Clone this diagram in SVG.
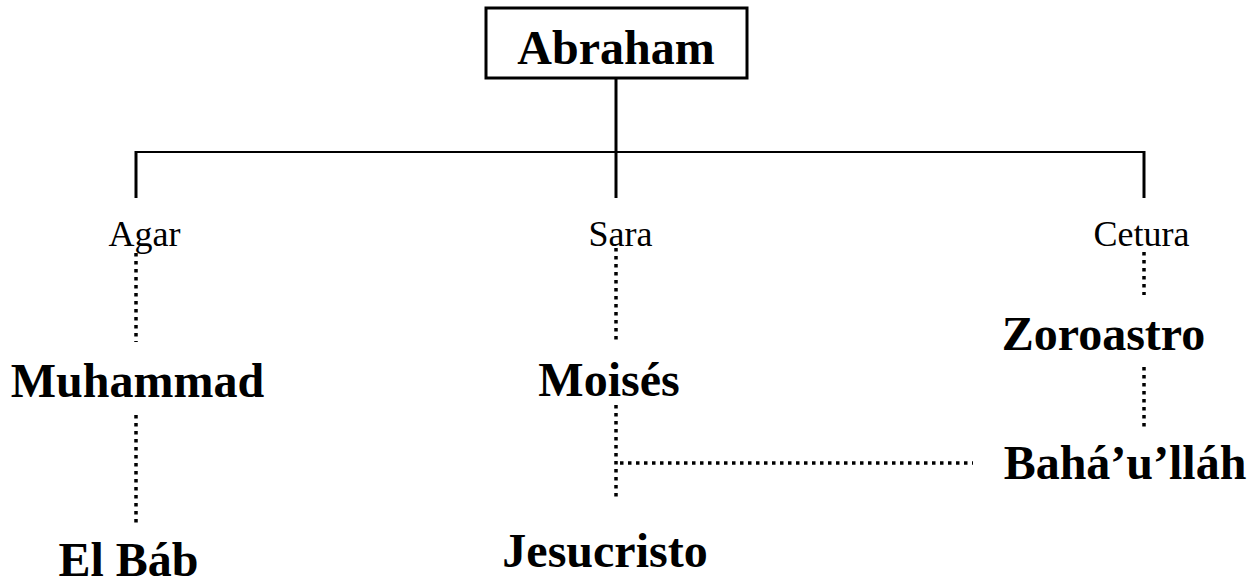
<svg xmlns="http://www.w3.org/2000/svg" width="1258" height="587" viewBox="0 0 1258 587">
<style>
.big{font-family:"Liberation Serif","Times New Roman",serif;font-weight:bold;font-size:48px;fill:#000;text-anchor:middle}
.small{font-family:"Liberation Serif","Times New Roman",serif;font-size:36px;fill:#000;text-anchor:middle}
.solid{stroke:#000;fill:none}
.dot{stroke:#000;stroke-width:3.5;stroke-dasharray:3.5 4.5;fill:none}
</style>
<rect width="1258" height="587" fill="#fff"/>
<g id="connectors">
<line class="solid" x1="616" y1="79" x2="616" y2="198" stroke-width="3"/>
<line class="solid" x1="135" y1="152" x2="1145" y2="152" stroke-width="2"/>
<line class="solid" x1="136" y1="151" x2="136" y2="198" stroke-width="3"/>
<line class="solid" x1="1144" y1="151" x2="1144" y2="198" stroke-width="3"/>
<line class="dot" x1="136" y1="253" x2="136" y2="342"/>
<line class="dot" x1="136" y1="415" x2="136" y2="524"/>
<line class="dot" x1="616" y1="248" x2="616" y2="340"/>
<line class="dot" x1="616" y1="405" x2="616" y2="497"/>
<line class="dot" x1="620" y1="463" x2="973" y2="463"/>
<line class="dot" x1="1144" y1="252" x2="1144" y2="295"/>
<line class="dot" x1="1144" y1="367" x2="1144" y2="428"/>
</g>
<g id="abraham">
<rect x="486" y="8" width="261" height="70" fill="#fff" stroke="#000" stroke-width="3"/>
<text class="big" x="616" y="64">Abraham</text>
</g>
<g id="agar"><text class="small" x="144.5" y="246">Agar</text></g>
<g id="sara"><text class="small" x="620.5" y="246">Sara</text></g>
<g id="cetura"><text class="small" x="1141.5" y="246">Cetura</text></g>
<g id="muhammad"><text class="big" x="137.5" y="397">Muhammad</text></g>
<g id="elbab"><text class="big" x="128.5" y="576">El Báb</text></g>
<g id="moises"><text class="big" x="609" y="396">Moisés</text></g>
<g id="jesucristo"><text class="big" x="605" y="567">Jesucristo</text></g>
<g id="zoroastro"><text class="big" x="1103.5" y="350">Zoroastro</text></g>
<g id="bahaullah"><text class="big" x="1125" y="479">Bahá’u’lláh</text></g>
</svg>
